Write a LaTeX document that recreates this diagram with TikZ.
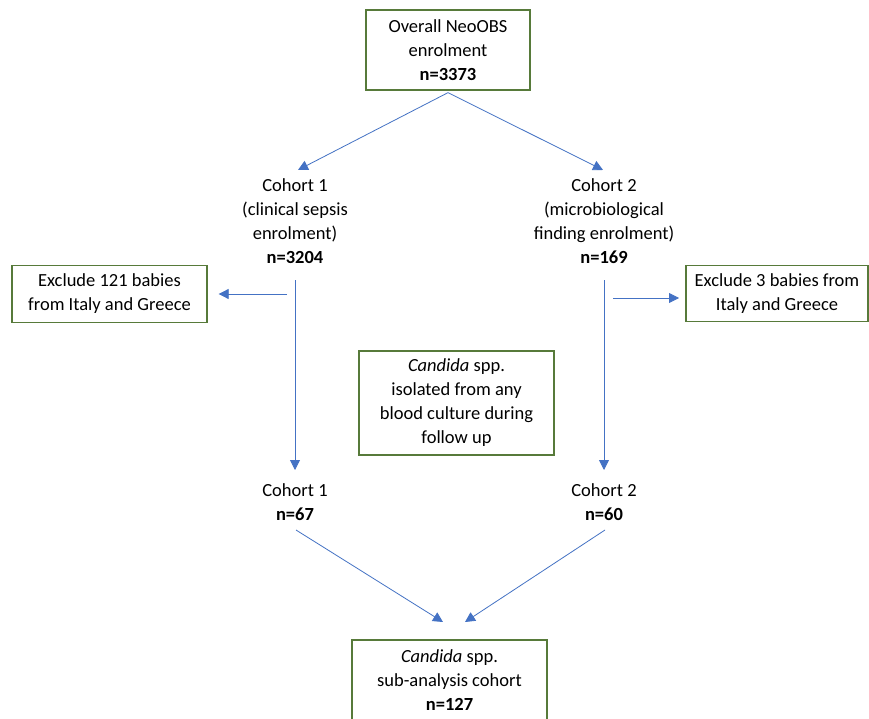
\documentclass[tikz,border=0pt]{standalone}
\usepackage{fontspec}
\setmainfont{Carlito}
\usetikzlibrary{arrows.meta}
\definecolor{boxgreen}{HTML}{577A3A}
\definecolor{arrblue}{HTML}{4472C4}
\begin{document}
\begin{tikzpicture}[x=1pt,y=-1pt,
 box/.style={draw=boxgreen,line width=1.3pt,align=center,font=\fontsize{18.5}{24}\selectfont,inner sep=0pt},
 txt/.style={align=center,font=\fontsize{18.5}{24}\selectfont,inner sep=0pt},
 arr/.style={draw=arrblue,line width=0.8pt,-{Triangle[length=10pt,width=10pt]}}]
\useasboundingbox[fill=white] (0,0) rectangle (869,719);
\node[box,minimum width=164pt,minimum height=80pt] (top) at (448,50) {Overall NeoOBS\\enrolment\\\textbf{n=3373}};
\node[txt] (c1) at (295,221.5) {Cohort 1\\(clinical sepsis\\enrolment)\\\textbf{n=3204}};
\node[txt] (c2) at (604,221.5) {Cohort 2\\(microbiological\\finding enrolment)\\\textbf{n=169}};
\node[box,minimum width=195pt,minimum height=57pt] (ex1) at (109.5,294) {Exclude 121 babies\\from Italy and Greece};
\node[box,minimum width=182pt,minimum height=56pt] (ex2) at (777,293.5) {Exclude 3 babies from\\Italy and Greece};
\node[box,minimum width=195pt,minimum height=104pt] (mid) at (456.5,403) {\textit{Candida} spp.\\isolated from any\\blood culture during\\follow up};
\node[txt] (c1b) at (295,502) {Cohort 1\\\textbf{n=67}};
\node[txt] (c2b) at (604,502) {Cohort 2\\\textbf{n=60}};
\node[box,minimum width=195pt,minimum height=80pt] (bot) at (449.5,680) {\textit{Candida} spp.\\sub-analysis cohort\\\textbf{n=127}};
% free ends
\coordinate (t1) at (298,170);
\coordinate (t2) at (603,170);
\coordinate (v1s) at (295,280);
\coordinate (v1e) at (295,470);
\coordinate (v2s) at (604,280);
\coordinate (v2e) at (604,470);
\coordinate (h1s) at (287,294);
\coordinate (h2s) at (613,298);
\coordinate (h2e) at (679,298);
\coordinate (d1s) at (296,530);
\coordinate (d2s) at (605,530);
\coordinate (b1) at (443,622);
\coordinate (b2) at (465,622);
\draw[arr] ([yshift=-2pt]top.south) -- (t1);
\draw[arr] ([yshift=-2pt]top.south) -- (t2);
\draw[arr] (v1s) -- (v1e);
\draw[arr] (v2s) -- (v2e);
\draw[arr,shorten >=11pt] (h1s) -- (ex1.east);
\draw[arr] (h2s) -- (h2e);
\draw[arr] (d1s) -- (b1);
\draw[arr] (d2s) -- (b2);
\end{tikzpicture}
\end{document}
